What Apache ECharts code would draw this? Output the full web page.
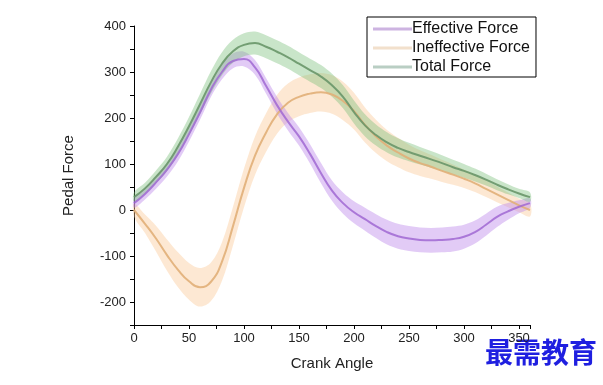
<!DOCTYPE html>
<html><head><meta charset="utf-8">
<script src="https://cdn.jsdelivr.net/npm/echarts@6/dist/echarts.min.js"></script>
<style>html,body{margin:0;padding:0;background:#fff}#c{width:603px;height:385px}</style>
</head><body><div id="c"></div>
<script>
const angles = [0,10,20,30,40,50,60,70,80,90,100,110,120,130,140,150,160,170,180,190,200,210,220,230,240,250,260,270,280,290,300,310,320,330,340,350,360];
const effective = [15,35,60,88,122,165,212,262,300,324,328,310,270,228,192,160,122,80,42,15,-5,-20,-35,-48,-57,-62,-65,-66,-65,-63,-58,-48,-32,-15,-3,7,15];
const effectiveSd = [10,12,14,15,16,16,16,16,16,16,16,16,17,18,19,20,21,22,22,23,24,25,26,27,27,27,27,27,27,27,26,25,24,22,18,14,10];
const ineffective = [0,-30,-62,-98,-130,-155,-168,-156,-112,-35,48,118,168,208,233,246,253,256,251,237,215,185,160,140,125,112,102,94,85,77,68,58,46,34,22,10,0];
const ineffectiveSd = [14,20,28,34,38,40,42,42,42,42,42,42,42,42,42,42,42,42,42,42,40,38,36,34,32,30,28,26,24,22,20,19,18,17,16,15,14];
const total = [28,47,72,100,138,182,230,278,318,345,359,363,355,344,332,318,304,290,271,246,213,184,163,147,135,126,118,110,102,93,85,76,66,55,45,36,28];
const totalSd = [10,12,14,16,18,20,22,24,25,25,25,25,25,25,25,25,25,25,25,25,25,24,23,22,21,20,19,18,17,16,15,14,13,12,11,10,10];
const legendNames = ['Effective Force','Ineffective Force','Total Force'];
const xTickLabels = [0,50,100,150,200,250,300,350];
const yTickLabels = [-200,-100,0,100,200,300,400];

const styles = [
  {band:'rgba(190,140,235,0.45)', line:'rgba(160,105,210,0.85)', legend:'rgb(205,180,225)'},
  {band:'rgba(250,200,150,0.42)', line:'rgba(225,175,120,0.9)', legend:'rgb(242,224,204)'},
  {band:'rgba(120,190,120,0.40)', line:'rgba(105,150,105,0.9)', legend:'rgb(185,206,195)'}
];
const means = [effective, ineffective, total];
const sds = [effectiveSd, ineffectiveSd, totalSd];
const order = [1,0,2];
const series = [];
order.forEach(k => {
  const m = means[k], s = sds[k], st = styles[k];
  const rows = angles.map((a,i)=>[a, m[i]-s[i], m[i]+s[i]]);
  series.push({type:'custom', name:'band'+k, silent:true, z:1,
    encode:{x:0, y:[1,2]},
    data: rows,
    renderItem:(params, api) => {
      if (params.dataIndex !== 0) return null;
      const up = rows.map(r => api.coord([r[0], r[2]]));
      const lo = rows.map(r => api.coord([r[0], r[1]])).reverse();
      return {type:'group', children:[
        {type:'polygon', shape:{points: up.concat(lo), smooth:0.35}, style:{fill:st.band, stroke:null}}
      ]};
    }
  });
});
order.forEach(k => {
  series.push({type:'line', name:legendNames[k], smooth:true, symbol:'none',
    lineStyle:{color:styles[k].line, width:2}, itemStyle:{color:styles[k].legend},
    data: angles.map((a,i)=>[a, means[k][i]]), z:3});
});

const chart = echarts.init(document.getElementById('c'), null, {renderer:'canvas'});
const font = 'Arial, "Liberation Sans", sans-serif';
chart.setOption({
  animation:false,
  backgroundColor:'#fff',
  grid:{left:134, right:73, top:26, bottom:60},
  legend:{
    data: legendNames.map((n,k)=>({name:n, itemStyle:{color:styles[k].legend}, lineStyle:{color:styles[k].legend, width:3}})),
    orient:'vertical', left:367, top:17, icon:'rect', itemWidth:39, itemHeight:3, itemGap:1,
    borderColor:'#000', borderWidth:1, borderRadius:0, padding:[3,6,1,6],
    textStyle:{fontFamily:font, fontSize:16, color:'#111', lineHeight:18, padding:[0,0,0,-5]}
  },
  xAxis:{type:'value', min:0, max:360, interval:25,
    name:'Crank Angle', nameLocation:'middle', nameGap:31,
    nameTextStyle:{fontFamily:font, fontSize:15, color:'#222'},
    axisLine:{onZero:false, lineStyle:{color:'#000', width:1}},
    axisTick:{show:true, length:4, lineStyle:{color:'#000'}},
    splitLine:{show:false},
    axisLabel:{fontFamily:font, fontSize:13, color:'#222', margin:7,
      formatter:v => xTickLabels.indexOf(v) >= 0 ? String(v) : ''}
  },
  yAxis:{type:'value', min:-250, max:400, interval:50,
    name:'Pedal Force', nameLocation:'middle', nameGap:58,
    nameTextStyle:{fontFamily:font, fontSize:15, color:'#222'},
    axisLine:{show:true, onZero:false, lineStyle:{color:'#000', width:1}},
    axisTick:{show:true, length:4, lineStyle:{color:'#000'}},
    splitLine:{show:false},
    axisLabel:{fontFamily:font, fontSize:13, color:'#222', margin:8,
      formatter:v => yTickLabels.indexOf(v) >= 0 ? String(v) : ''}
  },
  graphic:[{type:'text', right:6, top:338, silent:true,
    style:{text:'最需教育', fill:'#1f1fe0', font:'bold 28px "Noto Sans CJK SC", sans-serif'}}],
  series: series
});
</script></body></html>
